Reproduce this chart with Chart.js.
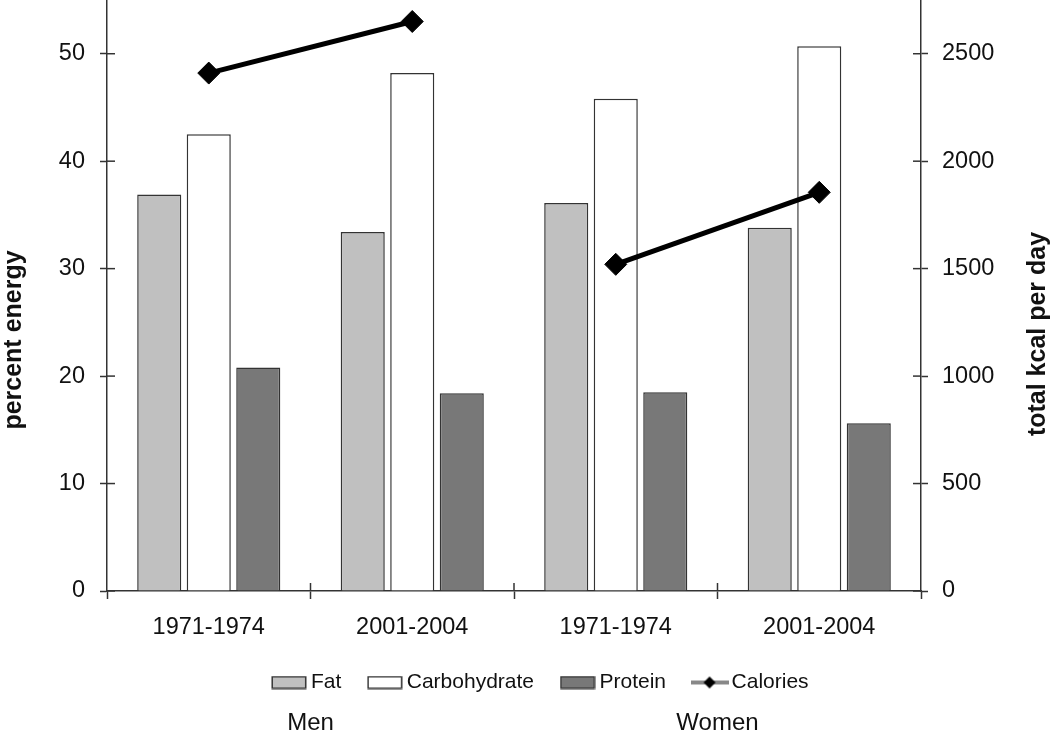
<!DOCTYPE html>
<html>
<head>
<meta charset="utf-8">
<script src="https://cdn.jsdelivr.net/npm/chart.js@4.4.0/dist/chart.umd.min.js"></script>
<style>
  html, body { margin: 0; padding: 0; background: #fff; }
</style>
</head>
<body>
<canvas id="myChart" width="1050" height="736"></canvas>
<script>
// values
const periods = ["1971-1974", "2001-2004", "1971-1974", "2001-2004"];
const groups = ["Men", "Women"];
const fat = [36.9, 33.4, 36.1, 33.8];
const carbohydrate = [42.5, 48.2, 45.8, 50.7];
const protein = [20.8, 18.4, 18.5, 15.6];
const calories = [2410, 2650, 1520, 1855];
const energyTicks = [0, 10, 20, 30, 40, 50];
const kcalTicks = [0, 500, 1000, 1500, 2000, 2500];

const FONT = '"Liberation Sans", Arial, sans-serif';
const INK = "#333";
Chart.defaults.font.family = FONT;
Chart.defaults.color = "#111";

// calories are drawn as two separate segments, one per sex
const calMen = calories.map((v, i) => (i < 2 ? v : null));
const calWomen = calories.map((v, i) => (i >= 2 ? v : null));

/* small pictures for the legend */
function swatch(fill) {
  const c = document.createElement("canvas");
  c.width = 36; c.height = 14;
  const g = c.getContext("2d");
  g.fillStyle = fill;
  g.fillRect(1, 1, 34, 12);
  g.strokeStyle = INK; g.lineWidth = 1.5;
  g.strokeRect(1.25, 1.25, 33.5, 11.5);
  return c;
}
function lineMark() {
  const c = document.createElement("canvas");
  c.width = 38; c.height = 14;
  const g = c.getContext("2d");
  g.strokeStyle = "#888"; g.lineWidth = 4;
  g.beginPath(); g.moveTo(0, 7); g.lineTo(38, 7); g.stroke();
  g.fillStyle = "#000";
  g.beginPath(); g.moveTo(13, 7); g.lineTo(19, 1); g.lineTo(25, 7); g.lineTo(19, 13); g.closePath(); g.fill();
  return c;
}
const legendItems = [
  { text: "Fat", pointStyle: swatch("#c0c0c0") },
  { text: "Carbohydrate", pointStyle: swatch("#ffffff") },
  { text: "Protein", pointStyle: swatch("#787878") },
  { text: "Calories", pointStyle: lineMark() },
].map((it, i) => ({ ...it, datasetIndex: i, hidden: false, lineWidth: 0, fontColor: "#111" }));

const bar = (label, values, color) => ({
  type: "bar",
  label: label,
  data: values,
  backgroundColor: color,
  borderColor: INK,
  borderWidth: 1.5,
  categoryPercentage: 0.73,
  barPercentage: 0.89,
  yAxisID: "y",
});
const calLine = (values) => ({
  type: "line",
  label: "Calories",
  data: values,
  borderColor: "#000",
  borderWidth: 5,
  pointStyle: "rectRot",
  pointRadius: 11,
  pointBackgroundColor: "#000",
  pointBorderColor: "#000",
  pointBorderWidth: 1,
  spanGaps: false,
  clip: false,
  yAxisID: "y2",
  order: -1,
});

const data = {
  labels: periods,
  datasets: [
    bar("Fat", fat, "#c0c0c0"),
    bar("Carbohydrate", carbohydrate, "#ffffff"),
    bar("Protein", protein, "#787878"),
    calLine(calMen),
    calLine(calWomen),
  ],
};

// tick marks that cross the axis lines, axis titles and the Men / Women labels
const extras = {
  id: "extras",
  afterDraw(chart) {
    const { ctx, chartArea: a, scales } = chart;
    const seg = (x1, y1, x2, y2) => { ctx.beginPath(); ctx.moveTo(x1, y1); ctx.lineTo(x2, y2); ctx.stroke(); };
    ctx.save();
    ctx.strokeStyle = INK; ctx.lineWidth = 1.5;
    energyTicks.forEach(v => { const y = scales.y.getPixelForValue(v); seg(a.left, y, a.left + 8, y); });
    kcalTicks.forEach(v => { const y = scales.y2.getPixelForValue(v); seg(a.right - 8, y, a.right, y); });
    for (let i = 1; i < periods.length; i++) {
      const x = (scales.x.getPixelForValue(i - 1) + scales.x.getPixelForValue(i)) / 2;
      seg(x, a.bottom - 8, x, a.bottom);
    }
    ctx.fillStyle = "#111";
    ctx.textAlign = "center"; ctx.textBaseline = "middle";
    ctx.font = "bold 25px " + FONT;
    [["percent energy", 14, 340], ["total kcal per day", 1038, 334]].forEach(([t, x, y]) => {
      ctx.save(); ctx.translate(x, y); ctx.rotate(-Math.PI / 2); ctx.fillText(t, 0, 0); ctx.restore();
    });
    ctx.font = "24px " + FONT;
    [0.5, 2.5].forEach((pos, k) => ctx.fillText(groups[k], scales.x.getPixelForValue(pos), 723));
    ctx.restore();
  },
};

const config = {
  type: "bar",
  data: data,
  options: {
    responsive: false,
    animation: false,
    layout: { autoPadding: false, padding: { top: 0, left: 36, right: 0, bottom: 33 } },
    plugins: {
      tooltip: { enabled: false },
      legend: {
        position: "bottom",
        labels: {
          usePointStyle: true,
          pointStyleWidth: 23,
          boxHeight: 14,
          padding: 32,
          font: { size: 21 },
          color: "#111",
          generateLabels: () => legendItems,
        },
      },
    },
    scales: {
      x: {
        grid: { drawOnChartArea: false, tickLength: 8, tickColor: INK, tickWidth: 1.5 },
        border: { color: INK, width: 1.5 },
        ticks: { font: { size: 23.5 }, color: "#111", padding: 14 },
        afterFit: s => { s.height = 49; },
      },
      y: {
        position: "left",
        min: 0, max: 55,
        afterBuildTicks: s => { s.ticks = energyTicks.concat([55]).map(v => ({ value: v })); },
        ticks: { font: { size: 23.5 }, color: "#111", padding: 15, callback: v => (energyTicks.includes(v) ? v : null) },
        grid: { drawOnChartArea: false, tickLength: 7, tickWidth: 1.5,
          tickColor: c => (c.tick && energyTicks.includes(c.tick.value) ? INK : "rgba(0,0,0,0)") },
        border: { color: INK, width: 1.5 },
        afterFit: s => { s.width = 71; s.paddingTop = 0; s.paddingBottom = 0; },
      },
      y2: {
        position: "right",
        min: 0, max: 2750,
        afterBuildTicks: s => { s.ticks = kcalTicks.concat([2750]).map(v => ({ value: v })); },
        ticks: { font: { size: 23.5 }, color: "#111", padding: 14, callback: v => (kcalTicks.includes(v) ? v : null) },
        grid: { drawOnChartArea: false, tickLength: 7, tickWidth: 1.5,
          tickColor: c => (c.tick && kcalTicks.includes(c.tick.value) ? INK : "rgba(0,0,0,0)") },
        border: { color: INK, width: 1.5 },
        afterFit: s => { s.width = 129; s.paddingTop = 0; s.paddingBottom = 0; },
      },
    },
  },
  plugins: [extras],
};

const context = document.getElementById("myChart").getContext("2d");
const chart = new Chart(context, config);
</script>
</body>
</html>
